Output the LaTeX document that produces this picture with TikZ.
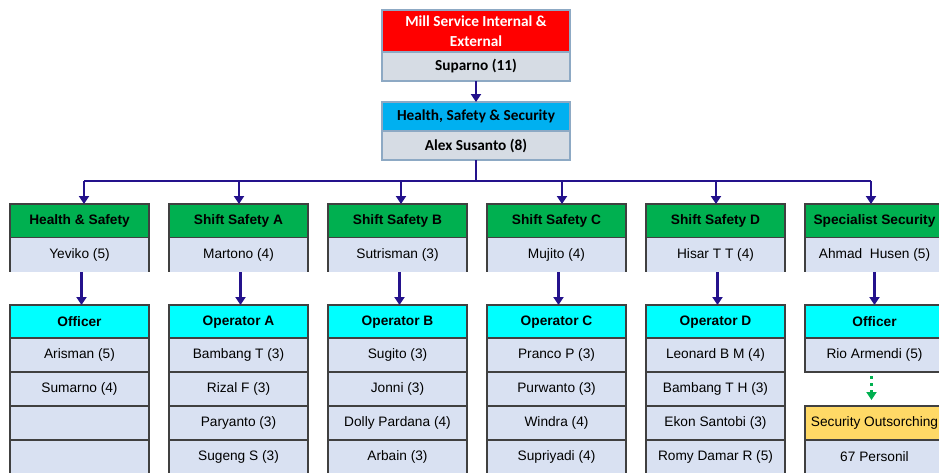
\documentclass[tikz,border=0pt]{standalone}
\usepackage{fontspec}
\setmainfont{Liberation Sans}
\newfontfamily\calib{Carlito}
\usetikzlibrary{arrows.meta,calc}
\definecolor{navy}{RGB}{36,18,140}
\definecolor{topred}{RGB}{255,0,0}
\definecolor{topblue}{RGB}{0,176,240}
\definecolor{topgrey}{RGB}{214,220,228}
\definecolor{topborder}{RGB}{141,169,196}
\definecolor{hgreen}{RGB}{0,176,80}
\definecolor{hcyan}{RGB}{0,255,255}
\definecolor{cgrey}{RGB}{217,225,242}
\definecolor{cborder}{RGB}{64,64,64}
\definecolor{hyellow}{RGB}{255,217,102}
\tikzset{
  cellbox/.style={draw=cborder,line width=1.1pt,minimum width=139pt,minimum height=34pt,
    anchor=north west,inner sep=0pt,outer sep=0pt,font=\fontsize{13.7}{15}\selectfont},
  greenhdr/.style={cellbox,fill=hgreen,font=\bfseries\fontsize{13.7}{15}\selectfont},
  cyanhdr/.style={cellbox,fill=hcyan,font=\bfseries\fontsize{13.7}{15}\selectfont},
  namecell/.style={cellbox,fill=cgrey},
  leadcell/.style={cellbox,draw=none,fill=cgrey},
  topbox/.style={draw=topborder,line width=1.6pt,minimum width=188pt,anchor=north west,
    inner sep=0pt,outer sep=0pt,align=center,font=\calib\bfseries\fontsize{15.3}{20}\selectfont},
  link/.style={draw=navy,line width=2.6pt},
  linkarrow/.style={link,-{Triangle[length=8pt,width=10pt]}},
  dotarrow/.style={draw=hgreen,line width=3pt,dash pattern=on 3pt off 4pt,
    -{Triangle[length=8pt,width=10pt]}}
}
\newcommand\orgcol[9]{%
  \node[greenhdr] (h#1) at (#2,-204) {#3};
  \node[leadcell] (l#1) at (#2,-238) {#4};
  \draw[draw=cborder,line width=1.1pt] (l#1.north west) -- (l#1.south west);
  \draw[draw=cborder,line width=1.1pt] (l#1.north east) -- (l#1.south east);
  \node[cyanhdr] (s#1) at (#2,-305) {#5};
  \node[namecell] (ra#1) at (#2,-338) {#6};
  \node[namecell] (rb#1) at (#2,-372) {#7};
  \node[namecell] (rc#1) at (#2,-406) {#8};
  \node[namecell] (rd#1) at (#2,-440) {#9};
  \coordinate (ls#1) at ($(l#1.south)+(2,0)$);
  \draw[linkarrow] (ls#1) -- (ls#1 |- s#1.north);
}
\begin{document}
\begin{tikzpicture}[x=1pt,y=1pt]
\useasboundingbox (0,0) rectangle (939,-472);
% top boxes
\node[topbox,fill=topred,text=white,minimum height=42pt] (mill) at (382,-10) {Mill Service Internal \&\\External};
\node[topbox,fill=topgrey,minimum height=29pt] (sup) at (382,-52) {Suparno (11)};
\node[topbox,fill=topblue,minimum height=29pt] (hss) at (382,-102) {Health, Safety \& Security};
\node[topbox,fill=topgrey,minimum height=29pt] (alex) at (382,-131) {Alex Susanto (8)};
\draw[linkarrow] (sup.south) -- (hss.north);
% columns
\orgcol{1}{10}{Health \& Safety}{Yeviko (5)}{Officer}{Arisman (5)}{Sumarno (4)}{}{}
\orgcol{2}{169}{Shift Safety A}{Martono (4)}{Operator A}{Bambang T (3)}{Rizal F (3)}{Paryanto (3)}{Sugeng S (3)}
\orgcol{3}{328}{Shift Safety B}{Sutrisman (3)}{Operator B}{Sugito (3)}{Jonni (3)}{Dolly Pardana (4)}{Arbain (3)}
\orgcol{4}{487}{Shift Safety C}{Mujito (4)}{Operator C}{Pranco P (3)}{Purwanto (3)}{Windra (4)}{Supriyadi (4)}
\orgcol{5}{646}{Shift Safety D}{Hisar T T (4)}{Operator D}{Leonard B M (4)}{Bambang T H (3)}{Ekon Santobi (3)}{Romy Damar R (5)}
% column 6
\node[greenhdr] (h6) at (805,-204) {Specialist Security};
\node[leadcell] (l6) at (805,-238) {Ahmad\ \ Husen (5)};
\draw[draw=cborder,line width=1.1pt] (l6.north west) -- (l6.south west);
\draw[draw=cborder,line width=1.1pt] (l6.north east) -- (l6.south east);
\node[cyanhdr] (s6) at (805,-305) {Officer};
\node[namecell] (ra6) at (805,-338) {Rio Armendi (5)};
\node[cellbox,fill=hyellow] (so6) at (805,-406) {Security Outsorching};
\node[namecell] (pers6) at (805,-440) {67 Personil};
\draw[linkarrow] (l6.south) -- (s6.north);
\coordinate (dt6) at ($(ra6.south)+(-3,-4)$);
\draw[dotarrow] (dt6) -- ($(so6.north)+(-3,6)$);
% bus
\coordinate (b1) at (84,-181);
\coordinate (b6) at (871,-181);
\draw[link] (alex.south) -- (alex.south |- b1);
\draw[link] (b1) -- (b6);
\draw[linkarrow] (b1) -- (b1 |- h1.north);
\draw[linkarrow] (b6) -- (b6 |- h6.north);
\foreach \k/\bx in {2/239,3/401,4/562,5/716}{
  \coordinate (b\k) at (\bx,-181);
  \draw[linkarrow] (b\k) -- (b\k |- h\k.north);
}
\end{tikzpicture}
\end{document}
